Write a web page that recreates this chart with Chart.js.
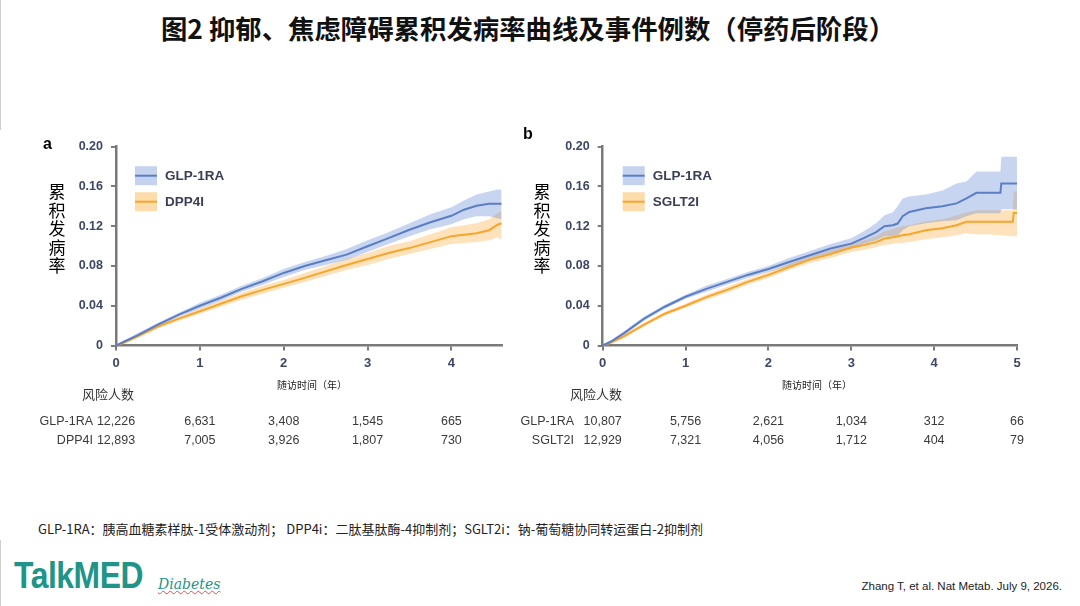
<!DOCTYPE html>
<html>
<head>
<meta charset="utf-8">
<script src="https://cdn.jsdelivr.net/npm/chart.js@4.4.1/dist/chart.umd.min.js"></script>
<style>
  body { margin:0; width:1080px; height:606px; background:#fff; position:relative; overflow:hidden;
         font-family:"Noto Sans CJK SC","Noto Sans",sans-serif; }
  #title { position:absolute; left:-12px; width:1080px; top:8px; text-align:center; font-size:26.4px; font-weight:bold; color:#111; }
  canvas { position:absolute; }
  #chartA { left:0; top:120px; }
  #chartB { left:510px; top:120px; }
  #note { position:absolute; left:38px; top:519px; font-size:13px; color:#222; white-space:nowrap; }
  #logo { position:absolute; left:14px; top:555px; font-family:"Liberation Sans",Arial,sans-serif; font-weight:bold;
          font-size:37px; color:#1f9488; transform:scaleX(0.86); transform-origin:left top; letter-spacing:-0.5px; }
  #sub { position:absolute; left:158px; top:576px; font-family:"DejaVu Serif",serif; font-style:italic; font-size:14px;
         color:#1f9488; text-decoration:underline wavy #e05050; text-decoration-thickness:1px; }
  #cite { position:absolute; right:18px; top:580px; font-family:"Liberation Sans",Arial,sans-serif; font-size:11.5px; color:#222; }
  .edge { position:absolute; left:0; width:1px; background:#cfcfcf; }
</style>
</head>
<body>
<div class="edge" style="top:0;height:130px"></div>
<div class="edge" style="top:540px;height:66px"></div>
<div id="title">图2 抑郁、焦虑障碍累积发病率曲线及事件例数（停药后阶段）</div>
<canvas id="chartA" width="510" height="340"></canvas>
<canvas id="chartB" width="540" height="340"></canvas>
<div id="note">GLP-1RA：胰高血糖素样肽-1受体激动剂； DPP4i：二肽基肽酶-4抑制剂；SGLT2i：钠-葡萄糖协同转运蛋白-2抑制剂</div>
<div id="logo">TalkMED</div>
<div id="sub">Diabetes</div>
<div id="cite">Zhang T, et al. Nat Metab. July 9, 2026.</div>
<script>
// ---- panel a: GLP-1RA vs DPP4I ----
const timesA = [0, 0.1, 0.25, 0.5, 0.75, 1, 1.25, 1.5, 1.75, 2, 2.25, 2.5, 2.75, 3, 3.25, 3.5, 3.75, 4, 4.15, 4.3, 4.45, 4.55, 4.6];
const glpA      = [0, 0.004, 0.010, 0.021, 0.031, 0.040, 0.048, 0.057, 0.0646, 0.073, 0.080, 0.0857, 0.0914, 0.0998, 0.108, 0.1165, 0.124, 0.1305, 0.1366, 0.1406, 0.1426, 0.1426, 0.1426];
const glpAHigh  = [0, 0.005, 0.012, 0.023, 0.033, 0.043, 0.051, 0.060, 0.068, 0.077, 0.084, 0.090, 0.097, 0.106, 0.114, 0.123, 0.132, 0.139, 0.146, 0.152, 0.155, 0.157, 0.157];
const glpALow   = [0, 0.003, 0.008, 0.019, 0.029, 0.037, 0.045, 0.054, 0.061, 0.069, 0.076, 0.081, 0.086, 0.094, 0.102, 0.110, 0.117, 0.122, 0.127, 0.130, 0.130, 0.128, 0.127];
const dppA      = [0, 0.003, 0.009, 0.019, 0.027, 0.0345, 0.042, 0.0495, 0.056, 0.062, 0.068, 0.0746, 0.081, 0.087, 0.093, 0.098, 0.104, 0.110, 0.1115, 0.113, 0.116, 0.1215, 0.123];
const dppAHigh  = [0, 0.004, 0.010, 0.021, 0.029, 0.037, 0.045, 0.053, 0.060, 0.066, 0.073, 0.080, 0.087, 0.093, 0.100, 0.105, 0.112, 0.119, 0.121, 0.123, 0.127, 0.133, 0.135];
const dppALow   = [0, 0.002, 0.007, 0.017, 0.025, 0.032, 0.039, 0.046, 0.052, 0.058, 0.064, 0.070, 0.076, 0.081, 0.087, 0.092, 0.097, 0.102, 0.103, 0.104, 0.106, 0.109, 0.106];
const riskTimesA = [0, 1, 2, 3, 4];
const glpRiskA = ['12,226', '6,631', '3,408', '1,545', '665'];
const dppRiskA = ['12,893', '7,005', '3,926', '1,807', '730'];

// ---- panel b: GLP-1RA vs SGLT2I ----
const timesB = [0, 0.1, 0.25, 0.5, 0.75, 1, 1.25, 1.5, 1.75, 2, 2.25, 2.5, 2.75, 3, 3.15, 3.3, 3.4, 3.5, 3.56, 3.62, 3.7, 3.9, 4.1, 4.27, 4.39, 4.51, 4.65, 4.8, 4.81, 4.95, 4.96, 5];
const glpB      = [0, 0.004, 0.012, 0.027, 0.039, 0.049, 0.057, 0.064, 0.071, 0.077, 0.084, 0.0908, 0.0975, 0.1025, 0.108, 0.114, 0.120, 0.121, 0.1227, 0.130, 0.1344, 0.138, 0.140, 0.143, 0.148, 0.1536, 0.1536, 0.1536, 0.163, 0.163, 0.163, 0.163];
const glpBHigh  = [0, 0.005, 0.014, 0.029, 0.041, 0.051, 0.060, 0.067, 0.074, 0.080, 0.088, 0.095, 0.102, 0.108, 0.115, 0.123, 0.131, 0.134, 0.140, 0.148, 0.150, 0.152, 0.156, 0.163, 0.165, 0.175, 0.175, 0.175, 0.190, 0.190, 0.190, 0.190];
const glpBLow   = [0, 0.003, 0.010, 0.025, 0.037, 0.047, 0.054, 0.061, 0.068, 0.074, 0.080, 0.087, 0.093, 0.097, 0.102, 0.106, 0.110, 0.110, 0.111, 0.116, 0.120, 0.123, 0.125, 0.126, 0.130, 0.133, 0.133, 0.133, 0.137, 0.137, 0.137, 0.137];
const sgltB     = [0, 0.003, 0.009, 0.021, 0.032, 0.040, 0.0487, 0.056, 0.064, 0.071, 0.079, 0.0864, 0.092, 0.0985, 0.101, 0.104, 0.1076, 0.109, 0.110, 0.111, 0.112, 0.116, 0.118, 0.121, 0.1244, 0.1244, 0.1244, 0.1244, 0.1244, 0.1244, 0.1334, 0.1334];
const sgltBHigh = [0, 0.004, 0.011, 0.023, 0.034, 0.042, 0.051, 0.059, 0.067, 0.074, 0.082, 0.090, 0.096, 0.102, 0.106, 0.110, 0.115, 0.117, 0.119, 0.120, 0.121, 0.125, 0.127, 0.131, 0.134, 0.136, 0.136, 0.136, 0.136, 0.136, 0.155, 0.155];
const sgltBLow  = [0, 0.002, 0.007, 0.019, 0.030, 0.038, 0.046, 0.053, 0.061, 0.068, 0.076, 0.083, 0.088, 0.094, 0.096, 0.099, 0.101, 0.102, 0.103, 0.103, 0.104, 0.107, 0.109, 0.111, 0.113, 0.112, 0.112, 0.111, 0.111, 0.110, 0.110, 0.110];
const riskTimesB = [0, 1, 2, 3, 4, 5];
const glpRiskB  = ['10,807', '5,756', '2,621', '1,034', '312', '66'];
const sgltRiskB = ['12,929', '7,321', '4,056', '1,712', '404', '79'];

const yTicks = [0, 0.04, 0.08, 0.12, 0.16, 0.20];
const yTitle = '累积发病率';
const xTitle = '随访时间（年）';
const riskTitle = '风险人数';

const BLUE = '#5a7ec6', BLUE_BAND = 'rgba(110,145,215,0.38)', BLUE_SW = '#c6d3ee';
const ORANGE = '#f7a52b', ORANGE_BAND = 'rgba(252,176,66,0.36)', ORANGE_SW = '#fddcab';
const TICK_COLOR = '#3e4763';

function pts(times, vals) { return times.map((t, i) => ({x: t, y: vals[i]})); }

// draws panel letter, stacked y title, legend, x title and at-risk table
const panelText = {
  id: 'panelText',
  afterDraw(chart, args, o) {
    const ctx = chart.ctx, a = chart.chartArea, xs = chart.scales.x;
    ctx.save();
    ctx.textBaseline = 'middle';
    ctx.fillStyle = '#000';
    ctx.font = 'bold 16px "Liberation Sans", Arial, sans-serif';
    ctx.textAlign = 'left';
    ctx.fillText(o.letter, o.letterX, o.letterY);

    ctx.font = '17px "Noto Sans CJK SC", sans-serif';
    ctx.textAlign = 'center';
    [...yTitle].forEach((c, i) => ctx.fillText(c, o.yTitleX, 72 + i * 18.5));

    o.legend.forEach((it, i) => {
      const cy = a.top + 29 + i * 26, lx = a.left + o.legendDX;
      ctx.fillStyle = it.swatch;
      ctx.fillRect(lx, cy - 9.5, 22, 19);
      ctx.strokeStyle = it.line; ctx.lineWidth = 2;
      ctx.beginPath(); ctx.moveTo(lx, cy); ctx.lineTo(lx + 22, cy); ctx.stroke();
      ctx.fillStyle = '#3a3f55';
      ctx.font = 'bold 13.5px "Liberation Sans", Arial, sans-serif';
      ctx.textAlign = 'left';
      ctx.fillText(it.label, lx + 30, cy + 1);
    });

    ctx.fillStyle = '#222';
    ctx.font = '10px "Noto Sans CJK SC", sans-serif';
    ctx.textAlign = 'center';
    ctx.fillText(xTitle, o.xTitleX, 265);

    ctx.font = '13px "Noto Sans CJK SC", sans-serif';
    ctx.fillStyle = '#333';
    ctx.fillText(riskTitle, o.riskTitleX, 274);

    ctx.font = '12.5px "Liberation Sans", Arial, sans-serif';
    ctx.fillStyle = '#3a3a3a';
    o.rows.forEach((r, i) => {
      const y = 302 + i * 19;
      ctx.textAlign = 'right';
      ctx.fillText(r.label, o.rowLabelX, y);
      ctx.textAlign = 'center';
      r.values.forEach((v, j) => ctx.fillText(v, xs.getPixelForValue(o.riskTimes[j]), y));
    });
    ctx.restore();
  }
};

function makeChart(id, p) {
  const band = (times, hi, lo, color) => ([
    {data: pts(times, hi), borderWidth: 0, pointRadius: 0, backgroundColor: color, fill: '+1', order: 2},
    {data: pts(times, lo), borderWidth: 0, pointRadius: 0, backgroundColor: color, fill: false, order: 2}
  ]);
  return new Chart(document.getElementById(id), {
    type: 'line',
    data: {
      datasets: [
        {data: pts(p.times, p.s1), borderColor: BLUE, borderWidth: 2, pointRadius: 0, fill: false, order: 0},
        {data: pts(p.times, p.s2), borderColor: ORANGE, borderWidth: 2, pointRadius: 0, fill: false, order: 1},
        ...band(p.times, p.s1Hi, p.s1Lo, BLUE_BAND),
        ...band(p.times, p.s2Hi, p.s2Lo, ORANGE_BAND)
      ]
    },
    options: {
      responsive: false,
      animation: false,
      layout: {padding: {left: 0, right: p.padRight, top: 26.7, bottom: 84.5}},
      plugins: {legend: {display: false}, tooltip: {enabled: false}, panelText: p.text},
      scales: {
        x: {
          type: 'linear', min: 0, max: p.xMax,
          afterFit: s => { s.height = 30; },
          border: {display: true, color: '#7a7a7a', width: 2.5},
          grid: {display: true, drawOnChartArea: false, drawTicks: true, tickLength: 5, color: '#7a7a7a', lineWidth: 2},
          ticks: {stepSize: 1, includeBounds: false, padding: 5, color: TICK_COLOR,
                  font: {family: '"Liberation Sans", Arial, sans-serif', size: 13, weight: 'bold'}}
        },
        y: {
          min: 0, max: 0.2,
          afterFit: s => { s.width = p.yWidth; },
          afterBuildTicks: s => { s.ticks = yTicks.map(v => ({value: v})); },
          border: {display: true, color: '#7a7a7a', width: 2.5},
          grid: {display: true, drawOnChartArea: false, drawTicks: true, tickLength: 5, color: '#7a7a7a', lineWidth: 2},
          ticks: {padding: 8, color: TICK_COLOR, callback: v => v === 0 ? '0' : v.toFixed(2),
                  font: {family: '"Liberation Sans", Arial, sans-serif', size: 12.5, weight: 'bold'}}
        }
      }
    },
    plugins: [panelText]
  });
}

makeChart('chartA', {
  times: timesA, s1: glpA, s1Hi: glpAHigh, s1Lo: glpALow, s2: dppA, s2Hi: dppAHigh, s2Lo: dppALow,
  xMax: 4.6, yWidth: 116, padRight: 8.3,
  text: {letter: 'a', letterX: 43, letterY: 25, yTitleX: 57, legendDX: 19, xTitleX: 312, riskTitleX: 108,
         rowLabelX: 93, riskTimes: riskTimesA,
         legend: [{label: 'GLP-1RA', line: BLUE, swatch: BLUE_SW}, {label: 'DPP4I', line: ORANGE, swatch: ORANGE_SW}],
         rows: [{label: 'GLP-1RA', values: glpRiskA}, {label: 'DPP4I', values: dppRiskA}]}
});

makeChart('chartB', {
  times: timesB, s1: glpB, s1Hi: glpBHigh, s1Lo: glpBLow, s2: sgltB, s2Hi: sgltBHigh, s2Lo: sgltBLow,
  xMax: 5, yWidth: 92.7, padRight: 33,
  text: {letter: 'b', letterX: 13, letterY: 15, yTitleX: 32, legendDX: 20, xTitleX: 307, riskTitleX: 86,
         rowLabelX: 64, riskTimes: riskTimesB,
         legend: [{label: 'GLP-1RA', line: BLUE, swatch: BLUE_SW}, {label: 'SGLT2I', line: ORANGE, swatch: ORANGE_SW}],
         rows: [{label: 'GLP-1RA', values: glpRiskB}, {label: 'SGLT2I', values: sgltRiskB}]}
});
</script>
</body>
</html>
